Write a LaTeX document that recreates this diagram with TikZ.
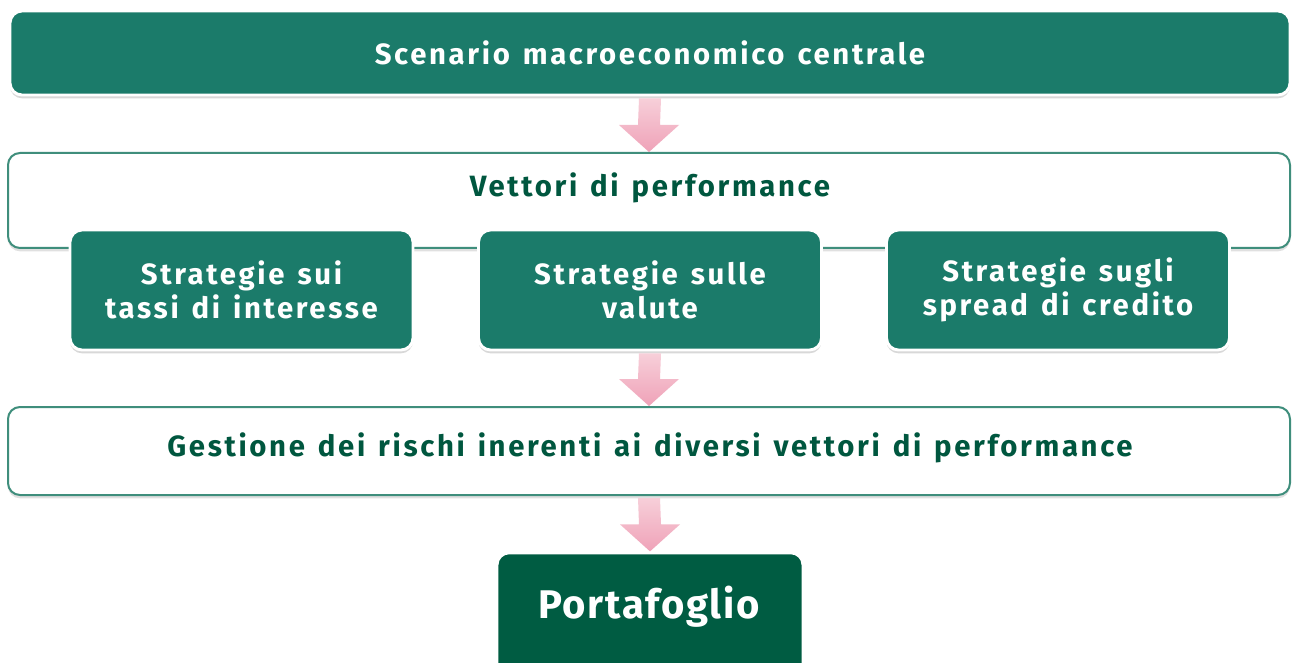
\documentclass[tikz,border=0pt]{standalone}
\usepackage{fontspec}
\setmainfont{Fira Sans}[LetterSpace=9,WordSpace=1.35]
\newfontfamily\portfont{Fira Sans}[LetterSpace=4]
\usetikzlibrary{shadows,calc}
\definecolor{teal1}{HTML}{1B7B6A}
\definecolor{dgreen}{HTML}{005C42}
\definecolor{tline}{HTML}{3F8E7C}
\definecolor{ttext}{HTML}{00573F}
\definecolor{pinkA}{HTML}{F7CFD9}
\definecolor{pinkB}{HTML}{EFA2B8}
\tikzset{
  tealbox/.style={rectangle, rounded corners=9pt, fill=teal1, draw=white, line width=2.2pt,
    inner sep=0pt, text=white, font=\bfseries\fontsize{22}{26}\selectfont, align=center,
    drop shadow={shadow xshift=0pt, shadow yshift=-2.5pt, opacity=0.25, fill=black!60}},
  whitebox/.style={rectangle, rounded corners=9pt, fill=white, draw=tline, line width=1.5pt,
    inner sep=0pt, drop shadow={shadow xshift=0pt, shadow yshift=-2.5pt, opacity=0.2, fill=black!60}},
  darklabel/.style={text=ttext, font=\bfseries\fontsize{22}{26}\selectfont, inner sep=0pt},
  fatarrow/.style={top color=pinkA, bottom color=pinkB, draw=none},
}
\newcommand{\fatarrow}[2]{%
  \path[fatarrow] ($(#1)+(-11,0)$) -- ($(#1)+(11,0)$) -- ($(#2)+(11,-27)$) -- ($(#2)+(30,-27)$)
    -- (#2) -- ($(#2)+(-30,-27)$) -- ($(#2)+(-11,-27)$) -- cycle;}
\begin{document}
\begin{tikzpicture}[x=0.75pt,y=-0.75pt]
\useasboundingbox (0,0) rectangle (1293,663);
\fill[white] (0,0) rectangle (1293,663);
% top
\node[tealbox, minimum width=960pt, minimum height=63pt] (scen) at (650,53)
  {Scenario macroeconomico centrale};
% vettori
\node[whitebox, minimum width=961.5pt, minimum height=71.25pt] (vet) at (649,200.5) {};
\node[darklabel] (vettxt) at (650,188) {Vettori di performance};
\node[tealbox, minimum width=257.25pt, minimum height=90pt] (s1) at (241.5,290)
  {Strategie sui\\tassi di interesse};
\node[tealbox, minimum width=257.25pt, minimum height=90pt] (s2) at (650,290)
  {Strategie sulle\\valute};
\node[tealbox, minimum width=257.25pt, minimum height=90pt] (s3) at (1058,290)
  {Strategie sugli\\spread di credito};
% gestione
\node[whitebox, minimum width=961.5pt, minimum height=66pt] (ges) at (649,451) {};
\node[darklabel] (gestxt) at (650,448) {Gestione dei rischi inerenti ai diversi vettori di performance};
% portafoglio
\node[tealbox, fill=dgreen, minimum width=229.5pt, minimum height=94pt] (port) at (650,615.5) {};
\node[text=white, font=\portfont\bfseries\fontsize{30}{34}\selectfont, inner sep=0pt] (porttxt) at (649,607) {Portafoglio};
% arrows
\coordinate (a1s) at ($(scen.south)+(0,2)$);
\fatarrow{a1s}{vet.north}
\coordinate (a2s) at ($(s2.south)+(0,2)$);
\fatarrow{a2s}{ges.north}
\coordinate (a3s) at ($(ges.south)+(0,2)$);
\fatarrow{a3s}{port.north}
\end{tikzpicture}
\end{document}
